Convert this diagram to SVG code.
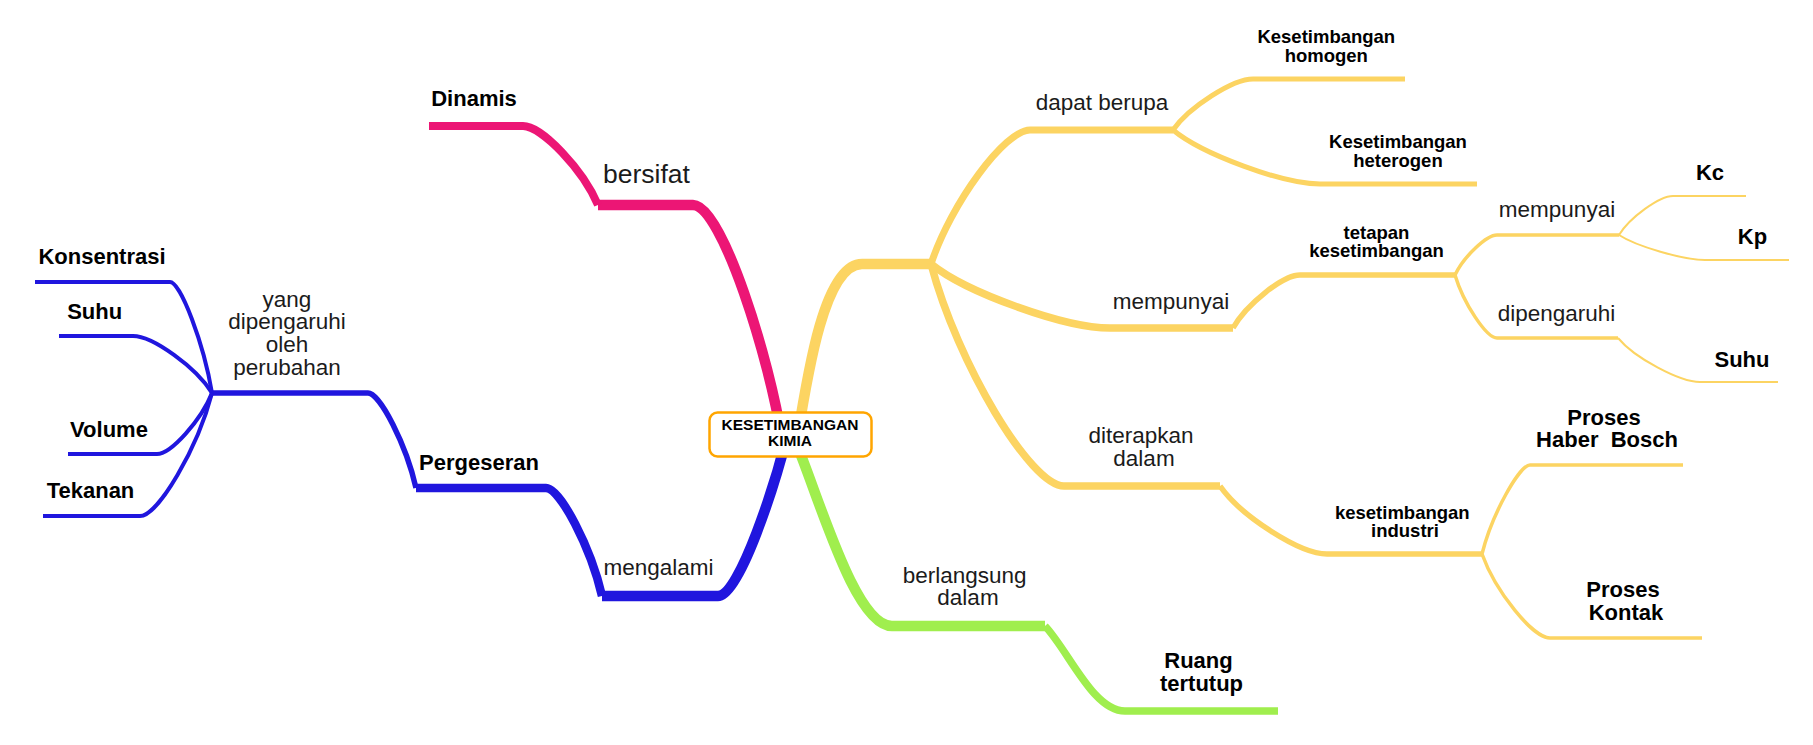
<svg xmlns="http://www.w3.org/2000/svg" width="1813" height="745" viewBox="0 0 1813 745">
<style>
.e{fill:none;stroke-linecap:butt;stroke-linejoin:round}
.pk{stroke:#EC1675}
.bl{stroke:#2016DE}
.yl{stroke:#FCD462}
.gr{stroke:#A0EE4E}
text{font-family:"Liberation Sans",Arial,Helvetica,sans-serif;text-anchor:middle}
.r{font-size:22.5px;fill:#1b1b1b}
.b{font-size:22px;font-weight:bold;fill:#000}
.bs{font-size:18.5px;font-weight:bold;fill:#000}
.c{font-size:15.5px;font-weight:bold;fill:#000}
</style>
<rect width="1813" height="745" fill="#fff"/>
<g id="connectors">
  <path class="e pk" stroke-width="10.5" d="M782,440 C770,360 722,205 693,205 L598,205"/>
  <path class="e pk" stroke-width="8" d="M598,205 C583,169.5 541.75,126 523,126 L429,126"/>
  <path class="e bl" stroke-width="10.5" d="M786,440 C776,480 740,596 718,596 L602,596"/>
  <path class="e bl" stroke-width="8.5" d="M602,596 C590.8,547.4 560,488 546,488 L416,488"/>
  <path class="e bl" stroke-width="5.5" d="M416,488 C406.4,445.25 380,393 368,393 L212,393"/>
  <path class="e bl" stroke-width="4" d="M212,393 C203.6,343 180.5,282 170,282 L35,282"/>
  <path class="e bl" stroke-width="4" d="M212,393 C196.2,367.4 152.75,336 133,336 L59,336"/>
  <path class="e bl" stroke-width="4" d="M212,393 C201,420.5 170.75,454 157,454 L68,454"/>
  <path class="e bl" stroke-width="4" d="M212,393 C197.6,448.4 158,516 140,516 L43,516"/>
  <path class="e yl" stroke-width="10.5" d="M797,440 C808,370 825,264 862,264 L931,264"/>
  <path class="e yl" stroke-width="7" d="M931,264 C950.8,203.7 1005,130 1030,130 L1173,130"/>
  <path class="e yl" stroke-width="5" d="M1173,130 C1189,107 1233,79 1253,79 L1405,79"/>
  <path class="e yl" stroke-width="5" d="M1173,130 C1202.4,154.3 1283,184 1320,184 L1477,184"/>
  <path class="e yl" stroke-width="7.5" d="M931,264 C966.8,292.8 1065,328 1110,328 L1233,328"/>
  <path class="e yl" stroke-width="5.5" d="M1233,328 C1246.4,304.15 1283.25,275 1300,275 L1455,275"/>
  <path class="e yl" stroke-width="3.5" d="M1455,275 C1463.4,257 1486.5,235 1497,235 L1619,235"/>
  <path class="e yl" stroke-width="3.5" d="M1455,275 C1463.4,303.35 1486.5,338 1497,338 L1618,338"/>
  <path class="e yl" stroke-width="2" d="M1619,235 C1629.8,217.45 1659.5,196 1673,196 L1746,196"/>
  <path class="e yl" stroke-width="2" d="M1619,235 C1636.2,246.25 1683.5,260 1705,260 L1789,260"/>
  <path class="e yl" stroke-width="2" d="M1618,338 C1634.4,357.8 1679.5,382 1700,382 L1778,382"/>
  <path class="e yl" stroke-width="7.5" d="M931,264 C957.6,363.9 1030.75,486 1064,486 L1220,486"/>
  <path class="e yl" stroke-width="5.5" d="M1220,486 C1241.4,516.6 1300.25,554 1327,554 L1482,554"/>
  <path class="e yl" stroke-width="3.5" d="M1482,554 C1492,514 1519.5,465 1530,465 L1683,465"/>
  <path class="e yl" stroke-width="3.5" d="M1482,554 C1495.6,591.8 1533,638 1550,638 L1702,638"/>
  <path class="e gr" stroke-width="10.5" d="M795,440 C820,500 855,626 892,626 L1045,626"/>
  <path class="e gr" stroke-width="7.5" d="M1045,626 C1069,651.5 1093,711 1125,711 L1278,711"/>
</g>
<g id="n-center">
  <rect x="709.5" y="412.5" width="162" height="44" rx="8" ry="8" fill="#fff" stroke="#FFA500" stroke-width="2.5"/>
  <text class="c" x="790" y="430">KESETIMBANGAN</text>
  <text class="c" x="790" y="446">KIMIA</text>
</g>
<g id="n-bersifat"><text class="r" style="font-size:26.5px" x="646.5" y="183">bersifat</text></g>
<g id="n-dinamis"><text class="b" x="474" y="106">Dinamis</text></g>
<g id="n-mengalami"><text class="r" x="658.5" y="575">mengalami</text></g>
<g id="n-pergeseran"><text class="b" x="479" y="470">Pergeseran</text></g>
<g id="n-yang">
  <text class="r" x="287" y="306.5">yang</text>
  <text class="r" x="287" y="329">dipengaruhi</text>
  <text class="r" x="287" y="352">oleh</text>
  <text class="r" x="287" y="375">perubahan</text>
</g>
<g id="n-konsentrasi"><text class="b" x="102" y="264.3">Konsentrasi</text></g>
<g id="n-suhu-1"><text class="b" x="94.7" y="319.3">Suhu</text></g>
<g id="n-volume"><text class="b" x="109" y="436.7">Volume</text></g>
<g id="n-tekanan"><text class="b" x="90.5" y="498.3">Tekanan</text></g>
<g id="n-dapat-berupa"><text class="r" x="1102" y="110">dapat berupa</text></g>
<g id="n-homogen">
  <text class="bs" x="1326.3" y="42.7">Kesetimbangan</text>
  <text class="bs" x="1326.3" y="61.7">homogen</text>
</g>
<g id="n-heterogen">
  <text class="bs" x="1398" y="148">Kesetimbangan</text>
  <text class="bs" x="1398" y="166.7">heterogen</text>
</g>
<g id="n-mempunyai-1"><text class="r" x="1171" y="309">mempunyai</text></g>
<g id="n-tetapan">
  <text class="bs" x="1376.5" y="239">tetapan</text>
  <text class="bs" x="1376.5" y="257.3">kesetimbangan</text>
</g>
<g id="n-mempunyai-2"><text class="r" x="1557" y="216.7">mempunyai</text></g>
<g id="n-kc"><text class="b" x="1710" y="180">Kc</text></g>
<g id="n-kp"><text class="b" x="1752.5" y="244">Kp</text></g>
<g id="n-dipengaruhi"><text class="r" x="1556.5" y="320.7">dipengaruhi</text></g>
<g id="n-suhu-2"><text class="b" x="1742" y="367">Suhu</text></g>
<g id="n-diterapkan">
  <text class="r" x="1141" y="442.7">diterapkan</text>
  <text class="r" x="1144" y="465.7">dalam</text>
</g>
<g id="n-industri">
  <text class="bs" x="1402.3" y="519">kesetimbangan</text>
  <text class="bs" x="1405" y="537.3">industri</text>
</g>
<g id="n-haber-bosch">
  <text class="b" x="1604" y="425">Proses</text>
  <text class="b" x="1607" y="447.3" xml:space="preserve" style="white-space:pre">Haber  Bosch</text>
</g>
<g id="n-kontak">
  <text class="b" x="1623" y="596.7">Proses</text>
  <text class="b" x="1626" y="620">Kontak</text>
</g>
<g id="n-berlangsung">
  <text class="r" x="964.7" y="582.7">berlangsung</text>
  <text class="r" x="968" y="605">dalam</text>
</g>
<g id="n-ruang">
  <text class="b" x="1198.5" y="668">Ruang</text>
  <text class="b" x="1201.5" y="690.7">tertutup</text>
</g>
</svg>
